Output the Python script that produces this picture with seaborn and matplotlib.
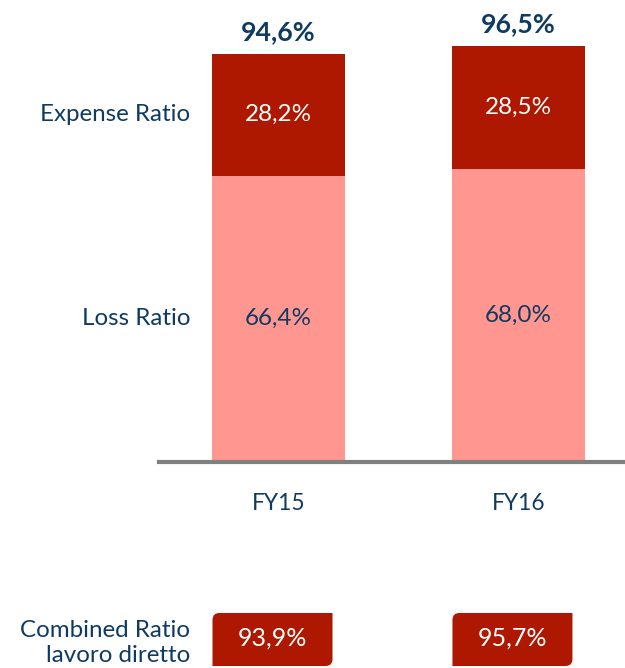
import matplotlib
matplotlib.use("Agg")
import matplotlib.pyplot as plt
import seaborn as sns
import pandas as pd
from matplotlib.path import Path
from matplotlib.patches import PathPatch

categories = ["FY15", "FY16"]
loss_ratio = [66.4, 68.0]
expense_ratio = [28.2, 28.5]
total_labels = ["94,6%", "96,5%"]
loss_labels = ["66,4%", "68,0%"]
expense_labels = ["28,2%", "28,5%"]
combined_direct = ["93,9%", "95,7%"]
series_names = ["Loss Ratio", "Expense Ratio"]
bottom_title = "Combined Ratio\nlavoro diretto"

sns.set_style("white")
FONT = ["Lato", "DejaVu Sans"]
plt.rcParams["font.family"] = FONT

DARK = "#AF1800"
LIGHT = "#FF9690"
NAVY = "#0F3A62"

df = pd.DataFrame({
    "cat": categories,
    "loss": loss_ratio,
    "total": [l + e for l, e in zip(loss_ratio, expense_ratio)],
})

W, H = 625, 668
fig = plt.figure(figsize=(W / 100, H / 100), dpi=100)
ax = fig.add_axes([159 / W, 1 - 462 / H, 1 - 159 / W, 462 / H])

sns.barplot(data=df, x="cat", y="total", color=DARK, saturation=1, width=0.554, ax=ax,
            linewidth=0, edgecolor="none")
sns.barplot(data=df, x="cat", y="loss", color=LIGHT, saturation=1, width=0.554, ax=ax,
            linewidth=0, edgecolor="none")

ax.set_xlim(-0.498, 1.444)
ax.set_ylim(0, 107.1)
for s in ["top", "right", "left"]:
    ax.spines[s].set_visible(False)
ax.spines["bottom"].set_color("#808080")
ax.spines["bottom"].set_linewidth(3)
ax.set_yticks([])
ax.set_xlabel("")
ax.set_ylabel("")
ax.tick_params(axis="x", length=0, pad=22, labelsize=16.3, labelcolor=NAVY)

for i in range(len(categories)):
    l, e = loss_ratio[i], expense_ratio[i]
    ax.text(i, l / 2, loss_labels[i], ha="center", va="center", color=NAVY, fontsize=17.5)
    ax.text(i, l + e / 2, expense_labels[i], ha="center", va="center", color="white", fontsize=17.5)
    ax.text(i, l + e + 5.1, total_labels[i], ha="center", va="center", color=NAVY,
            fontsize=19.3, fontweight="bold")

lx = (190 - 278.5) / 240
ax.text(lx, loss_ratio[0] / 2, series_names[0], ha="right", va="center", color=NAVY, fontsize=17.4)
ax.text(lx, loss_ratio[0] + expense_ratio[0] / 2, series_names[1], ha="right", va="center",
        color=NAVY, fontsize=17.4)

fig.canvas.draw()
def px_to_fig(x, y):
    return (x / W, 1 - y / H)

def box_path(x0, y0, x1, y1, r):
    pts = [
        (x0 + r, y0), (x1, y0), (x1, y1 - r),
        (x1, y1), (x1 - r, y1),
        (x0, y1), (x0, y0 + r),
        (x0, y0), (x0 + r, y0),
    ]
    codes = [Path.MOVETO, Path.LINETO, Path.LINETO,
             Path.CURVE3, Path.CURVE3,
             Path.LINETO, Path.LINETO,
             Path.CURVE3, Path.CURVE3]
    return Path([px_to_fig(*p) for p in pts], codes)

for i, txt in enumerate(combined_direct):
    cx_disp = ax.transData.transform((i, 0))[0]
    x0 = cx_disp - 66
    x1 = x0 + 120
    y0, y1 = 613, 666
    patch = PathPatch(box_path(x0, y0, x1, y1, 7), facecolor=DARK, edgecolor="none",
                      transform=fig.transFigure, zorder=1)
    fig.patches.append(patch)
    fig.text((x0 + x1) / 2 / W, 1 - 638 / H, txt, ha="center", va="center", color="white",
             fontsize=18, zorder=5)

fig.text(190 / W, 1 - 643 / H, bottom_title, ha="right", va="center", color=NAVY,
         fontsize=17.4, linespacing=1.22)

fig.savefig("out.png", dpi=100)
